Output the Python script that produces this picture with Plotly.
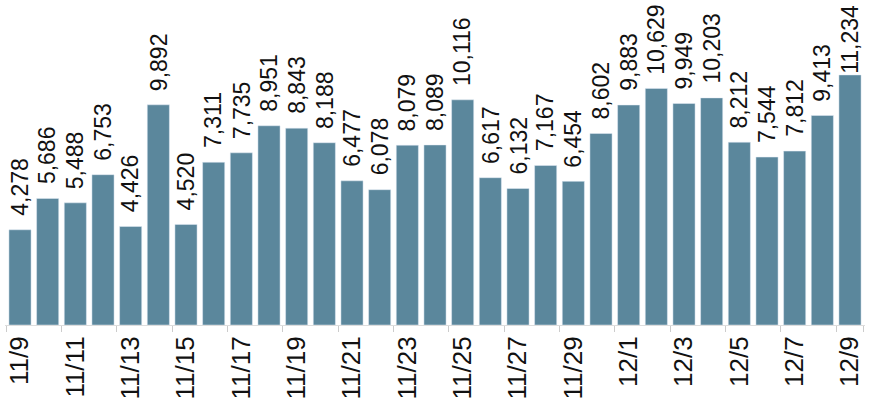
import plotly.graph_objects as go

dates = ["11/9", "11/10", "11/11", "11/12", "11/13", "11/14", "11/15", "11/16",
         "11/17", "11/18", "11/19", "11/20", "11/21", "11/22", "11/23", "11/24",
         "11/25", "11/26", "11/27", "11/28", "11/29", "11/30", "12/1", "12/2",
         "12/3", "12/4", "12/5", "12/6", "12/7", "12/8", "12/9"]
counts = [4278, 5686, 5488, 6753, 4426, 9892, 4520, 7311, 7735, 8951, 8843, 8188,
          6477, 6078, 8079, 8089, 10116, 6617, 6132, 7167, 6454, 8602, 9883, 10629,
          9949, 10203, 8212, 7544, 7812, 9413, 11234]

labels = [f"{v:,}" for v in counts]

H = 408
T, B = 0, 83
YMAX = 14600
plot_h = H - T - B

fig = go.Figure()
fig.add_trace(go.Bar(x=dates, y=counts, marker_color="#5b879c", hoverinfo="x+y"))

# value labels above the bars, rotated; pushed down if they'd run off the top
for d, v, t in zip(dates, counts, labels):
    est_len = 23 * (0.556 * sum(c.isdigit() for c in t) + 0.278 * t.count(","))
    room = plot_h * (1 - v / YMAX) - 4
    shift = min(12, room - est_len - 2)
    fig.add_annotation(x=d, y=v, text=t, showarrow=False, textangle=-90,
                       xanchor="center", yanchor="bottom", yshift=shift,
                       font=dict(size=23, color="#111111"))

fig.update_layout(
    width=880, height=H,
    margin=dict(l=5, r=15, t=T, b=B),
    plot_bgcolor="white", paper_bgcolor="white",
    bargap=0.2,
    showlegend=False,
    font=dict(family="Liberation Sans, Arial, sans-serif", size=22, color="#111111"),
)
fig.update_xaxes(
    type="category",
    tickmode="array",
    tickvals=dates[::2],
    ticktext=dates[::2],
    tickson="boundaries",
    ticks="outside", ticklen=6, tickcolor="#cccccc",
    tickangle=-90,
    tickfont=dict(size=26),
    showline=True, linecolor="#dddddd", linewidth=1,
    showgrid=False,
    automargin=False,
)
fig.update_yaxes(range=[0, YMAX], visible=False, showgrid=False, zeroline=False,
                 automargin=False)

fig.write_html("out.html", config={"displayModeBar": False},
               post_script="document.body.style.margin='0px';")
